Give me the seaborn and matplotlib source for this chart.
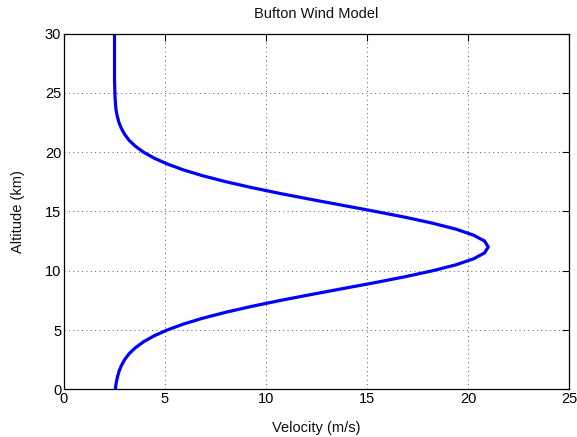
import matplotlib
matplotlib.use("Agg")
import matplotlib.pyplot as plt
import seaborn as sns
import pandas as pd

altitude_km = [0, 0.5, 1, 1.5, 2, 2.5, 3, 3.5, 4, 4.5, 5, 5.5, 6, 6.5, 7, 7.5, 8, 8.5, 9, 9.5,
               10, 10.5, 11, 11.5, 12, 12.5, 13, 13.5, 14, 14.5, 15, 15.5, 16, 16.5, 17, 17.5,
               18, 18.5, 19, 19.5, 20, 20.5, 21, 21.5, 22, 22.5, 23, 23.5, 24, 24.5, 25, 25.5,
               26, 26.5, 27, 27.5, 28, 28.5, 29, 29.5, 30]
velocity_ms = [2.54, 2.58, 2.64, 2.72, 2.84, 3.00, 3.22, 3.53, 3.93, 4.45, 5.11, 5.91, 6.88, 8.02,
               9.31, 10.73, 12.26, 13.83, 15.41, 16.91, 18.26, 19.41, 20.27, 20.82, 21.00, 20.82,
               20.27, 19.41, 18.26, 16.91, 15.41, 13.83, 12.26, 10.73, 9.31, 8.02, 6.88, 5.91,
               5.11, 4.45, 3.93, 3.53, 3.22, 3.00, 2.84, 2.72, 2.64, 2.58, 2.55, 2.53, 2.52,
               2.51, 2.50, 2.50, 2.50, 2.50, 2.50, 2.50, 2.50, 2.50, 2.50]
x_ticks = [0, 5, 10, 15, 20, 25]
y_ticks = [0, 5, 10, 15, 20, 25, 30]

title = "Bufton Wind Model"
x_label = "Velocity (m/s)"
y_label = "Altitude (km)"

df = pd.DataFrame({"velocity": velocity_ms, "altitude": altitude_km})

sns.set_style("white")
plt.rcParams["font.family"] = ["Liberation Sans", "DejaVu Sans"]

fig = plt.figure(figsize=(5.77, 4.37), dpi=100)
ax = fig.add_axes([64 / 577, (437 - 389.3) / 437, (569 - 64) / 577, (389.3 - 33.5) / 437])

sns.lineplot(data=df, x="velocity", y="altitude", sort=False, estimator=None,
             color=(0, 0, 1), linewidth=2.3, ax=ax)
for ln in ax.lines:
    ln.set_solid_joinstyle("round")
    ln.set_solid_capstyle("butt")

ax.set_xlim(0, 25)
ax.set_ylim(0, 30)
ax.set_xticks(x_ticks)
ax.set_yticks(y_ticks)
ax.set_xticklabels([str(t) for t in x_ticks])
ax.set_yticklabels([str(t) for t in y_ticks])

ax.grid(True, color="0.35", linestyle=(0, (1, 3.5)), linewidth=0.7)
ax.tick_params(direction="in", length=5, width=0.8, top=True, right=True,
               labelsize=10.5, colors="black", pad=2)
for s in ax.spines.values():
    s.set_color("black")
    s.set_linewidth(0.9)
    s.set_visible(True)

ax.set_title(title, fontsize=10.5, pad=11, color="#111111")
ax.set_xlabel(x_label, fontsize=10.5, labelpad=11, color="#111111")
ax.set_ylabel(y_label, fontsize=10.5, labelpad=14, color="#111111")

fig.savefig("out.png", dpi=100)
